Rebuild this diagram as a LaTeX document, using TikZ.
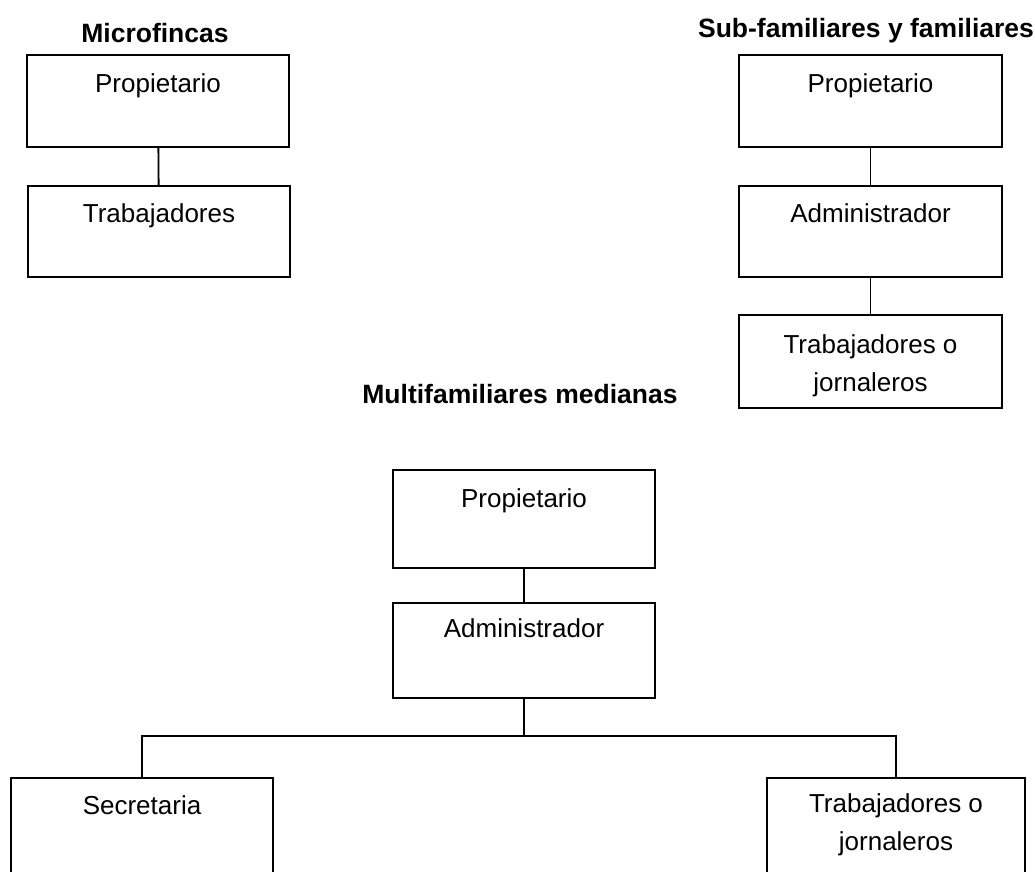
\documentclass[tikz,border=0pt]{standalone}
\usepackage{fontspec}
\setmainfont{Liberation Sans}
\usetikzlibrary{positioning}
\begin{document}
\begin{tikzpicture}[x=1pt, y=-1pt,
  box/.style={draw, line width=1.6pt, minimum width=262pt, minimum height=92pt, inner sep=0pt},
  txt/.style={anchor=north, inner sep=0pt, align=center, font=\fontsize{26}{38}\selectfont},
  ttl/.style={inner sep=0pt, font=\fontsize{26.5}{32}\selectfont\bfseries},
  link/.style={line width=1.8pt}]
  \useasboundingbox (0,0) rectangle (1035,871);

  % microfincas
  \node[ttl] (tmicro) at (155, 33) {Microfincas};
  \node[box] (mprop) at (158, 101) {};
  \node[box, minimum height=91pt] (mtrab) at (159, 231.5) {};
  \node[txt, below=19pt of mprop.north] (mproptxt) {Propietario};
  \node[txt, below=18pt of mtrab.north] (mtrabtxt) {Trabajadores};
  \draw[link] (mprop) -- (mtrab);

  % sub-familiares y familiares
  \node[ttl] (tsub) at (866, 31) {Sub-familiares y familiares};
  \node[box, minimum width=263pt] (sprop) at (870.5, 101) {};
  \node[box, minimum width=263pt, minimum height=91pt] (sadm) at (870.5, 231.5) {};
  \node[box, minimum width=263pt, minimum height=93pt] (strab) at (870.5, 361.5) {};
  \node[txt, below=19pt of sprop.north] (sproptxt) {Propietario};
  \node[txt, below=18pt of sadm.north] (sadmtxt) {Administrador};
  \node[txt, below=20pt of strab.north] (strabtxt) {Trabajadores o\\jornaleros};
  \draw[link] (sprop) -- (sadm);
  \draw[link] (sadm) -- (strab);

  % multifamiliares medianas
  \node[ttl] (tmulti) at (520, 394) {Multifamiliares medianas};
  \node[box, minimum height=98pt] (uprop) at (524, 519) {};
  \node[box, minimum height=95pt] (uadm) at (524, 650.5) {};
  \node[box, minimum height=110pt] (usec) at (142, 833) {};
  \node[box, minimum width=258pt, minimum height=110pt] (utrab) at (896, 833) {};
  \node[txt, below=19pt of uprop.north] (uproptxt) {Propietario};
  \node[txt, below=16pt of uadm.north] (uadmtxt) {Administrador};
  \node[txt, below=18pt of usec.north] (usectxt) {Secretaria};
  \node[txt, below=16pt of utrab.north] (utrabtxt) {Trabajadores o\\jornaleros};
  \draw[link] (uprop) -- (uadm);
  \draw[link] (uadm.south) -- ++(0,37) -| (usec.north);
  \draw[link] (uadm.south) -- ++(0,37) -| (utrab.north);
\end{tikzpicture}
\end{document}
